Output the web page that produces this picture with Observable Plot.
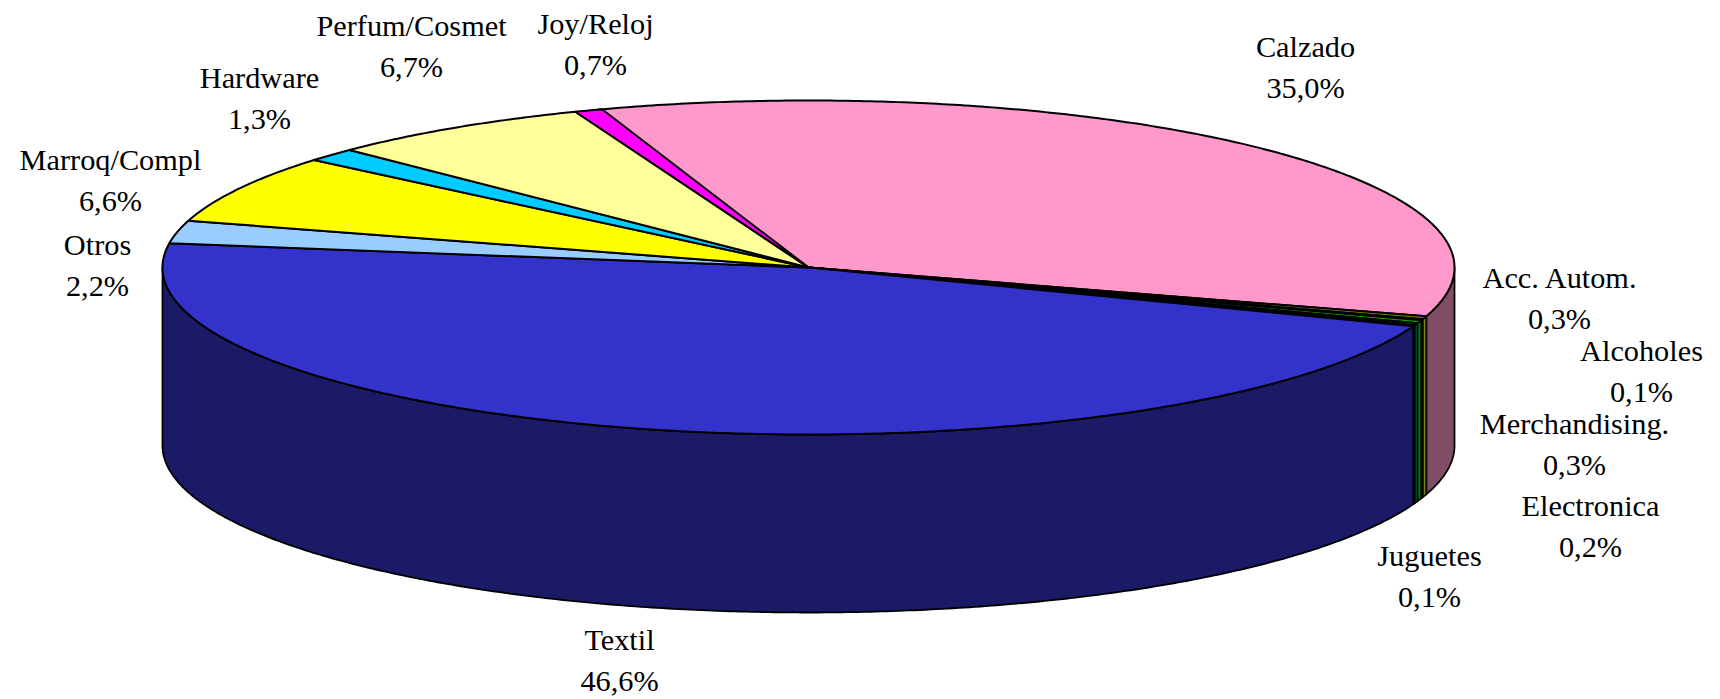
<!DOCTYPE html>
<html><head><meta charset="utf-8">
<style>html,body{margin:0;padding:0;background:#fff;overflow:hidden}svg{display:block}</style>
<script src="https://cdn.jsdelivr.net/npm/d3@7"></script>
<script src="https://cdn.jsdelivr.net/npm/@observablehq/plot@0.6"></script>
</head><body><div id="chart"></div>
<script>
const categories = ["Calzado","Acc. Autom.","Alcoholes","Merchandising.","Electronica","Juguetes","Textil","Otros","Marroq/Compl","Hardware","Perfum/Cosmet","Joy/Reloj"];
const shares = [35.0,0.3,0.1,0.3,0.2,0.1,46.6,2.2,6.6,1.3,6.7,0.7];
const topColors = ["#ff99cc","#808000","#000000","#00aa00","#00aaaa","#000000","#3333cc","#99ccff","#ffff00","#00ccff","#ffff99","#ff00ff"];
const wallColors = ["#804c66","#808000","#003300","#008000","#008080","#000033","#1a1a66","#4c6680","#808000","#006680","#80804c","#800080"];
// label layout (centre of each two-line label), same order as categories
const labelX = [1305,1559,1641,1574,1590,1429,619,97,110,259,411,595];
const labelY = [64,295,368,441,523,573,657,262,177,95,43,41];
// pie layout
const cx = 808, cy = 267, rx = 646, ry = 167, depth = 178, startDeg = 109;

const rad = d => d * Math.PI / 180;
const px = a => cx + rx * Math.cos(rad(a));
const py = a => cy - ry * Math.sin(rad(a));
let acc = startDeg;
const slices = categories.map((name, i) => {
  const a0 = acc, a1 = acc - shares[i] * 3.6; acc = a1;
  return {name, i, a0, a1};
});
const arcAngles = (a0, a1) => {
  const n = Math.max(2, Math.ceil(Math.abs(a0 - a1) * 2));
  return d3.range(n + 1).map(k => a0 + (a1 - a0) * k / n);
};
const tops = slices.flatMap(s => [
  {name: s.name, x: cx, y: cy, fill: topColors[s.i]},
  ...arcAngles(s.a0, s.a1).map(a => ({name: s.name, x: px(a), y: py(a), fill: topColors[s.i]}))
]);
// walls: only the part of each slice on the front half of the rim (angles -180..0)
const walls = slices.flatMap(s => {
  const hi = Math.min(s.a0, 0), lo = Math.max(s.a1, -180);
  if (hi <= lo) return [];
  const as = arcAngles(hi, lo);
  return [
    ...as.map(a => ({name: s.name, x: px(a), y: py(a), fill: wallColors[s.i]})),
    ...as.slice().reverse().map(a => ({name: s.name, x: px(a), y: py(a) + depth, fill: wallColors[s.i]}))
  ];
});
const labels = slices.map(s => ({
  x: labelX[s.i], y: labelY[s.i],
  text: `${s.name}\n${shares[s.i].toFixed(1).replace(".", ",")}%`
}));

const chart = Plot.plot({
  width: 1720, height: 699, margin: 0,
  style: {background: "#fff"},
  x: {domain: [0, 1720], range: [0, 1720], axis: null},
  y: {domain: [0, 699], range: [0, 699], axis: null},
  marks: [
    Plot.line(walls, {x: "x", y: "y", z: "name", fill: "fill", stroke: "#000", strokeWidth: 1.8, curve: "linear-closed", strokeLinejoin: "round"}),
    Plot.line(tops, {x: "x", y: "y", z: "name", fill: "fill", stroke: "#000", strokeWidth: 2, curve: "linear-closed", strokeLinejoin: "round"}),
    Plot.text(labels, {x: "x", y: "y", text: "text", fontFamily: "Liberation Serif", fontSize: 30.3, lineHeight: 1.36, fill: "#000", textAnchor: "middle", lineAnchor: "middle"})
  ]
});
document.getElementById("chart").append(chart);
</script></body></html>
